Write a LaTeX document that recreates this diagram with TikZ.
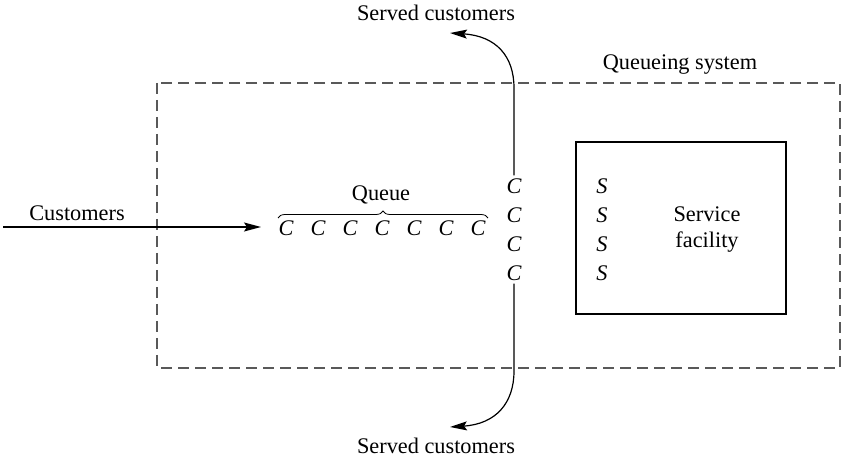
\documentclass[tikz,border=0pt]{standalone}
\usepackage{fontspec}
\setmainfont{Liberation Serif}
\usetikzlibrary{arrows.meta,decorations.pathreplacing}
\begin{document}
\begin{tikzpicture}[x=1pt,y=-1pt,
  txt/.style={inner sep=0pt,font=\fontsize{22.3}{26}\selectfont},
  cc/.style={inner sep=0pt,font=\fontsize{22.3}{26}\selectfont\itshape},
  flow/.style={line width=1.2pt,-{Stealth[length=17pt,width=9pt,inset=3pt]}},
  sysbox/.style={draw=black!65,line width=1.4pt,dash pattern=on 11pt off 6pt},
  facbox/.style={draw,line width=1.2pt}]
\useasboundingbox (0,0) rectangle (863,457);
% queueing system
\draw[sysbox] (157,83) rectangle (840,368);
\node[txt] (qs) at (680,65) {Queueing system};
% service facility
\draw[facbox] (576,142) rectangle (786,314);
\foreach \i/\y in {1/186,2/215,3/244,4/273}{
  \node[cc] (s\i) at (602,\y) {S};
  \node[cc] (c\i) at (514,\y) {C};
}
\node[txt,align=center] (sf) at (707,230) {Service\\facility};
% queue
\foreach \i/\x in {1/286,2/318,3/350,4/382,5/414,6/446,7/478}{
  \node[cc] (q\i) at (\x,228) {C};
}
\draw[line width=0.8pt,decorate,decoration={brace,amplitude=7pt}]
  (278,218) -- (488,218);
\node[txt] (queue) at (381,195) {Queue};
% arriving customers
\coordinate (src) at (3,227);
\coordinate (arr) at (261,227);
\draw[flow] (src) -- (arr);
\node[txt] (cust) at (77,213) {Customers};
% served customers top
\coordinate (t1) at (514,88);
\coordinate (t2) at (450,33);
\draw[flow] ([yshift=3pt]c1.north) -- (t1) .. controls (514,56) and (496,36) .. (t2);
\node[txt] (st) at (436,13) {Served customers};
% served customers bottom
\coordinate (b1) at (514,371);
\coordinate (b2) at (450,427);
\draw[flow] ([yshift=-3pt]c4.south) -- (b1) .. controls (514,403) and (496,424) .. (b2);
\node[txt] (sb) at (436,446) {Served customers};
\end{tikzpicture}
\end{document}
